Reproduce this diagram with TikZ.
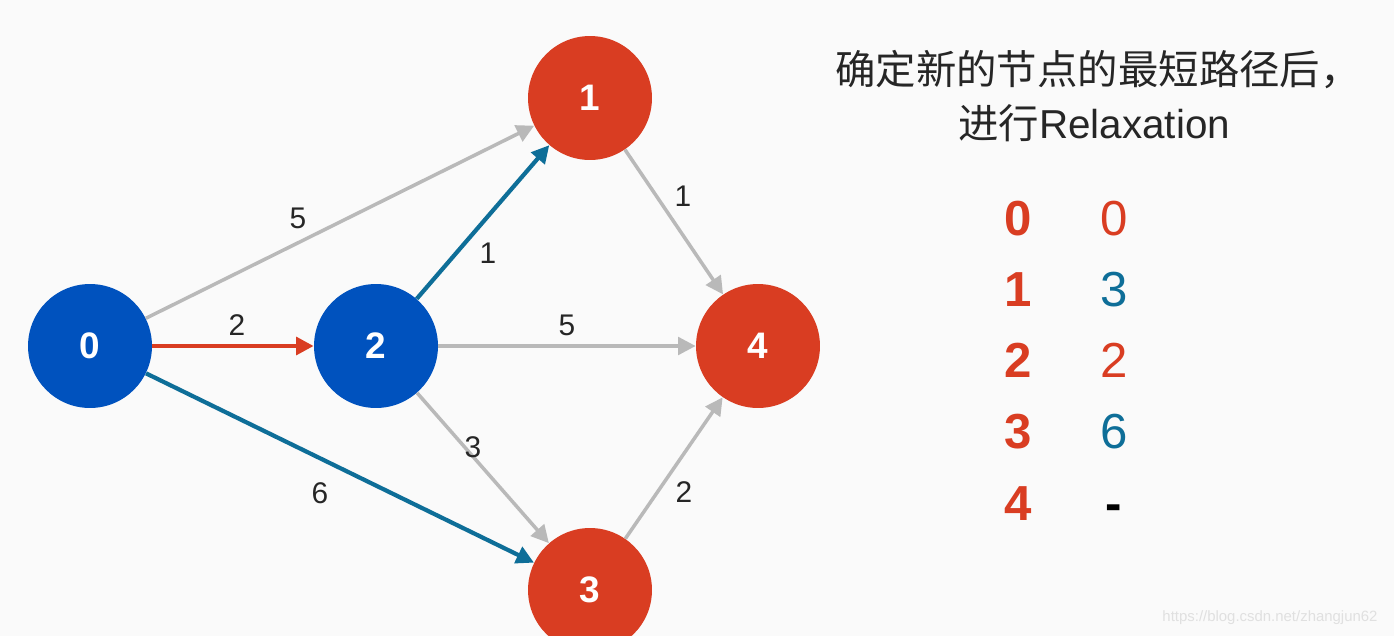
\documentclass[tikz,border=0pt]{standalone}
\usepackage{fontspec}
\setmainfont{Liberation Sans}
\newfontfamily\cjk{Noto Sans CJK SC}
\usetikzlibrary{arrows.meta}
\definecolor{vblue}{HTML}{0052BE}
\definecolor{vred}{HTML}{D93D22}
\definecolor{pteal}{HTML}{0E6E98}
\definecolor{egray}{HTML}{B9B9B9}
\definecolor{paper}{HTML}{FAFAFA}
\begin{document}
\begin{tikzpicture}[x=0.02cm,y=-0.02cm,
  vertex/.style={circle,inner sep=0pt,minimum size=2.48cm,text=white,font=\fontsize{21}{21}\selectfont\bfseries},
  grayarc/.style={line width=2pt,draw=egray,-{Triangle[length=10pt,width=10pt]}},
  tealarc/.style={grayarc,line width=2.4pt,draw=pteal},
  redarc/.style={grayarc,line width=2.4pt,draw=vred},
  wt/.style={midway,text=black!85,font=\fontsize{17}{17}\selectfont},
  vkey/.style={anchor=base,text=vred,font=\fontsize{28}{28}\selectfont\bfseries},
  vdist/.style={anchor=base,font=\fontsize{28}{28}\selectfont},
  title/.style={anchor=west,inner sep=0pt,text=black!85,font=\fontsize{23}{23}\selectfont}]
\useasboundingbox (0,0) rectangle (1394,636);
\clip (0,0) rectangle (1394,636);
\fill[paper] (0,0) rectangle (1394,636);
\node[vertex,fill=vblue] (n0) at (90,346) {0};
\node[vertex,fill=vblue] (n2) at (376,346) {2};
\node[vertex,fill=vred] (n1) at (590,98) {1};
\node[vertex,fill=vred] (n4) at (758,346) {4};
\node[vertex,fill=vred] (n3) at (590,590) {3};
\draw[grayarc] (n0) -- node[wt,shift={(-42,-4)}] {5} (n1);
\draw[redarc] (n0) -- node[wt,shift={(4,-21)}] {2} (n2);
\draw[tealarc] (n0) -- node[wt,shift={(-20,25)}] {6} (n3);
\draw[tealarc] (n2) -- node[wt,shift={(5,31)}] {1} (n1);
\draw[grayarc] (n2) -- node[wt,shift={(0,-21)}] {5} (n4);
\draw[grayarc] (n2) -- node[wt,shift={(-10,-21)}] {3} (n3);
\draw[grayarc] (n1) -- node[wt,shift={(9,-26)}] {1} (n4);
\draw[grayarc] (n3) -- node[wt,shift={(10,24)}] {2} (n4);
\node[title] (t1) at (835,70) {\cjk 确定新的节点的最短路径后，};
\node[title] (t2) at (958,123) {{\cjk 进行}Relaxation};
\foreach \k/\d/\c in {0/0/vred,1/3/pteal,2/2/vred,3/6/pteal,4/{\bfseries -}/black} {
  \node[vkey] (k\k) at (1018,{235+71.25*\k}) {\k};
  \node[vdist,text=\c] (d\k) at (1114,{235+71.25*\k}) {\d};
}
\node[text=black!12,font=\fontsize{8.5}{8.5}\selectfont] (url) at (1270,618) {https://blog.csdn.net/zhangjun62};
\end{tikzpicture}
\end{document}
